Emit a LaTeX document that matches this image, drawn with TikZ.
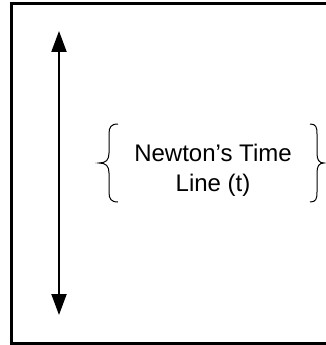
\documentclass[tikz,border=0pt]{standalone}
\usepackage{fontspec}
\setmainfont{Liberation Sans}
\usetikzlibrary{arrows.meta}
\tikzset{
  frameline/.style={line width=2.25pt},
  timearrow/.style={line width=1.5pt, {Triangle[length=15.75pt,width=11.25pt]}-{Triangle[length=15.75pt,width=11.25pt]}},
  bracel/.style={line width=0.75pt},
  labeltext/.style={align=center, font=\fontsize{18pt}{22.5pt}\selectfont, inner sep=0pt}
}
\begin{document}
\begin{tikzpicture}[x=0.75pt,y=-0.75pt]
\useasboundingbox (0,0) rectangle (325,345);
\draw[frameline] (11.5,3.5) rectangle (328,343);
\coordinate (top) at (59,31);
\coordinate (bot) at (59,315);
\draw[timearrow] (top) -- (bot);
\node[labeltext] (label) at (213,170) {Newton’s Time\\Line (t)};
\draw[bracel] (118,124) .. controls (111,124) and (109,127) .. (109,134) -- (109,153) .. controls (109,160) and (106,163) .. (99,163) .. controls (106,163) and (109,166) .. (109,173) -- (109,192) .. controls (109,199) and (111,202) .. (118,202);
\draw[bracel] (310,124) .. controls (316,124) and (317,127) .. (317,134) -- (317,153) .. controls (317,160) and (319,163) .. (324,163) .. controls (319,163) and (317,166) .. (317,173) -- (317,192) .. controls (317,199) and (316,202) .. (310,202);
\end{tikzpicture}
\end{document}
